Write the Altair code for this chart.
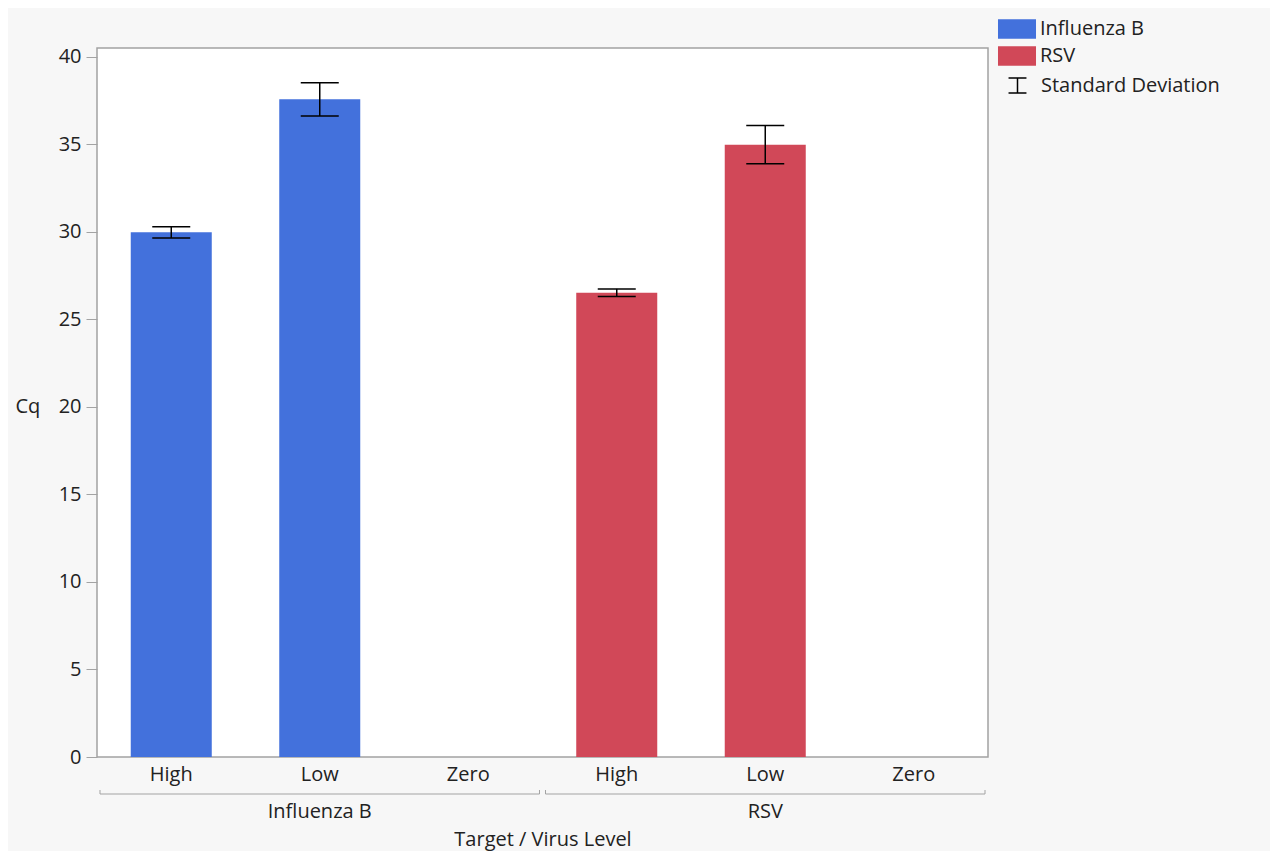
import altair as alt
import pandas as pd

# ---- data ----
targets = ["Influenza B", "Influenza B", "Influenza B", "RSV", "RSV", "RSV"]
levels = ["High", "Low", "Zero", "High", "Low", "Zero"]
cq_mean = [29.97, 37.57, None, 26.52, 34.98, None]
cq_sd = [0.32, 0.95, None, 0.22, 1.09, None]
group_names = ["Influenza B", "RSV"]
bar_colors = ["#4371DC", "#D14858"]
y_ticks = [0, 5, 10, 15, 20, 25, 30, 35, 40]
sd_label = "Standard Deviation"

FONT = "Open Sans"
TXT = "#222222"
GRAY = "#a3a3a3"

df = pd.DataFrame({"Target": targets, "Level": levels, "Cq": cq_mean, "SD": cq_sd})
df["Key"] = df["Target"] + "|" + df["Level"]
df["SDLabel"] = sd_label
keys = list(df["Key"])

W, H = 891, 709

x_main = alt.X(
    "Key:N",
    scale=alt.Scale(domain=keys, paddingInner=0.4545, paddingOuter=0.2273),
    axis=alt.Axis(
        title="Target / Virus Level",
        labelExpr="split(datum.label, '|')[1]",
        ticks=False,
        domain=False,
        labelAngle=0,
        labelPadding=7,
        labelFontSize=20,
        labelFont=FONT,
        labelColor=TXT,
        titleFont=FONT,
        titleFontSize=20,
        titleFontWeight="normal",
        titleColor=TXT,
        titleX=W / 2,
        titleY=88,
        titleBaseline="alphabetic",
        grid=False,
    ),
)

y_scale = alt.Scale(domain=[0, 40.5], nice=False, zero=True)
y_axis = alt.Axis(
    values=y_ticks,
    title="Cq",
    titleAngle=0,
    titleAlign="left",
    titleBaseline="alphabetic",
    titleX=-82,
    titleY=364,
    titleFont=FONT,
    titleFontSize=20,
    titleFontWeight="normal",
    titleColor=TXT,
    labelFont=FONT,
    labelFontSize=20,
    labelColor=TXT,
    labelPadding=5,
    tickSize=11,
    tickColor=GRAY,
    domain=False,
    grid=False,
)

base = alt.Chart(df).encode(x=x_main)

bars = base.mark_bar(opacity=1).encode(
    y=alt.Y("Cq:Q", scale=y_scale, axis=y_axis, title="Cq"),
    fill=alt.Fill(
        "Target:N",
        scale=alt.Scale(domain=group_names, range=bar_colors),
        legend=alt.Legend(
            orient="none",
            legendX=910,
            legendY=-29,
            title=None,
            symbolType="M-1.95,-1H1.95V1H-1.95Z",
            symbolSize=380,
            symbolStrokeWidth=0,
            symbolOpacity=1,
            labelFont=FONT,
            labelFontSize=20,
            labelColor=TXT,
            labelOffset=13,
            labelLimit=0,
            rowPadding=7,
            padding=0,
        ),
    ),
)

err_base = base.transform_filter("isValid(datum.Cq)").transform_calculate(
    lo="datum.Cq - datum.SD", hi="datum.Cq + datum.SD"
)

err = err_base.mark_rule(strokeWidth=1.5).encode(
    y=alt.Y("lo:Q", scale=y_scale, title="Cq"),
    y2="hi:Q",
    stroke=alt.Stroke(
        "SDLabel:N",
        scale=alt.Scale(domain=[sd_label], range=["#000000"]),
        legend=alt.Legend(
            orient="none",
            legendX=910,
            legendY=27,
            title=None,
            symbolType="M-0.92,-0.77H0.92M0,-0.77V0.77M-0.92,0.77H0.92",
            symbolSize=380,
            symbolStrokeWidth=1.5,
            symbolStrokeColor="#000000",
            symbolFillColor="transparent",
            labelFont=FONT,
            labelFontSize=20,
            labelColor=TXT,
            labelOffset=13,
            labelLimit=0,
            padding=0,
        ),
    ),
)

cap_hi = err_base.mark_tick(size=38, thickness=1.5, color="#000000", opacity=1).encode(
    y=alt.Y("hi:Q", scale=y_scale, title="Cq")
)
cap_lo = err_base.mark_tick(size=38, thickness=1.5, color="#000000", opacity=1).encode(
    y=alt.Y("lo:Q", scale=y_scale, title="Cq")
)

main = alt.layer(bars, err, cap_hi, cap_lo)

# ---- group brackets and labels under the axis ----
gdf = pd.DataFrame({"Target": group_names})
g_scale = alt.Scale(domain=group_names, paddingInner=0.01347, paddingOuter=0.00673)

bracket = alt.Chart(gdf).mark_bar(color=GRAY, opacity=1).encode(
    x=alt.X("Target:N", scale=g_scale, axis=None),
    y=alt.value(745.5),
    y2=alt.value(746.5),
)
end_l = alt.Chart(gdf).mark_rule(color=GRAY, strokeWidth=1).encode(
    x=alt.X("Target:N", scale=g_scale, axis=None, bandPosition=0),
    y=alt.value(742),
    y2=alt.value(746),
)
end_r = alt.Chart(gdf).mark_rule(color=GRAY, strokeWidth=1).encode(
    x=alt.X("Target:N", scale=g_scale, axis=None, bandPosition=1),
    y=alt.value(742),
    y2=alt.value(746),
)
glabels = alt.Chart(gdf).mark_text(
    font=FONT, fontSize=20, color=TXT, baseline="alphabetic", align="center"
).encode(
    x=alt.X("Target:N", scale=g_scale, axis=None),
    y=alt.value(770),
    text="Target:N",
)

groups = alt.layer(bracket, end_l, end_r, glabels)

chart = (
    alt.layer(main, groups)
    .resolve_scale(x="independent")
    .properties(
        width=W,
        height=H,
        autosize=alt.AutoSizeParams(type="none"),
        padding={"left": 89, "top": 40, "right": 282, "bottom": 94},
        background="#f7f7f7",
    )
    .configure_view(stroke=GRAY, strokeWidth=1.5, fill="#ffffff")
)

chart.save("out.html", embed_options={"renderer": "svg", "actions": False})
